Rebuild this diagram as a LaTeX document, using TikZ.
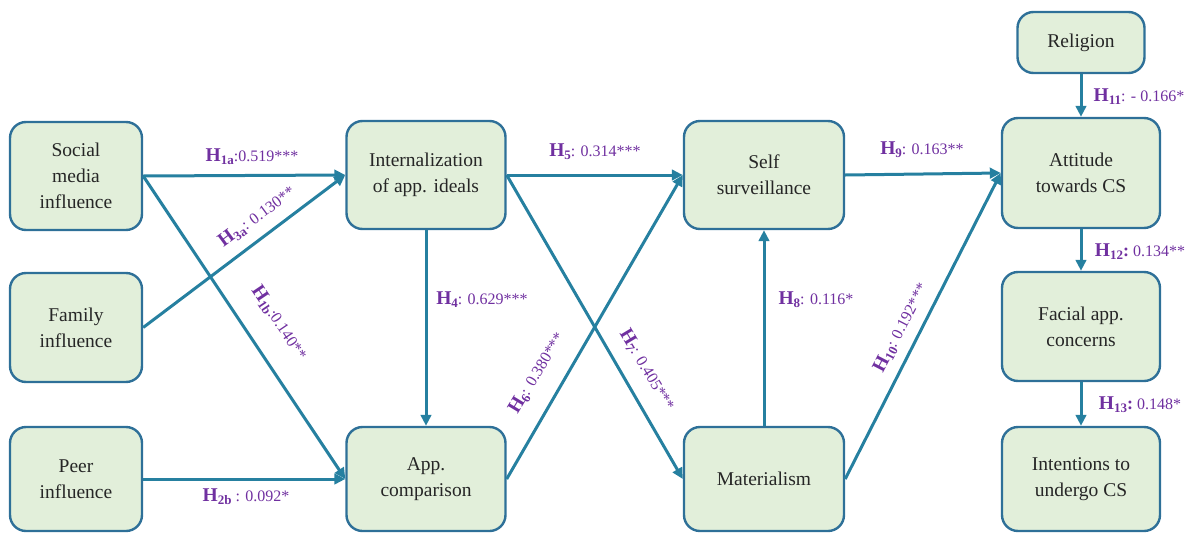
\documentclass[tikz,border=0pt]{standalone}
\usepackage{fontspec}
\setmainfont{Liberation Serif}
\usetikzlibrary{arrows.meta}

\definecolor{boxfill}{RGB}{226,239,218}
\definecolor{boxline}{RGB}{46,112,152}
\definecolor{pathline}{RGB}{38,128,160}
\definecolor{hypcol}{RGB}{112,48,160}

% hypothesis label: bold H, bold subscript, then the coefficient text
\newcommand{\hyp}[2]{{\fontsize{19.5}{19.5}\selectfont\bfseries H}\raisebox{-0.3em}{\fontsize{13}{13}\selectfont\bfseries #1}{\fontsize{16}{16}\selectfont #2}}
\newcommand{\bcolon}{{\fontsize{18}{18}\selectfont\bfseries :}}

\tikzset{
  box/.style={draw=boxline, line width=2.4pt, fill=boxfill, rounded corners=16pt,
    align=center, inner sep=0pt, font=\fontsize{19.5}{26}\selectfont, text=black!85},
  path arrow/.style={draw=pathline, line width=3pt,
    -{Triangle[length=11pt,width=10.5pt]}},
  hyplabel/.style={text=hypcol, inner sep=0pt, anchor=center}
}

\begin{document}
\begin{tikzpicture}[x=1pt,y=-1pt]
\useasboundingbox (0,0) rectangle (1192,536);

% constructs
\node[box, minimum width=132pt, minimum height=108pt] (soc)  at (76,176)    {Social\\media\\influence};
\node[box, minimum width=132pt, minimum height=109pt] (fam)  at (76,327.5)  {Family\\influence};
\node[box, minimum width=132pt, minimum height=104pt] (peer) at (76,479)    {Peer\\influence};
\node[box, minimum width=159pt, minimum height=108pt] (int)  at (426,175)   {Internalization\\of app. ideals};
\node[box, minimum width=159pt, minimum height=104pt] (comp) at (426,479)   {App.\\comparison};
\node[box, minimum width=160pt, minimum height=108pt] (self) at (764,175)   {Self\\surveillance};
\node[box, minimum width=160pt, minimum height=104pt] (mat)  at (764,479)   {Materialism};
\node[box, minimum width=127pt, minimum height=61pt]  (rel)  at (1081,42.5) {Religion};
\node[box, minimum width=158pt, minimum height=110pt] (att)  at (1081,173)  {Attitude\\towards CS};
\node[box, minimum width=158pt, minimum height=109pt] (fac)  at (1081,326.5){Facial app.\\concerns};
\node[box, minimum width=158pt, minimum height=104pt] (intn) at (1081,479)  {Intentions to\\undergo CS};

% paths
\draw[path arrow] (soc.east)  -- (int.west);
\draw[path arrow] (fam.east)  -- (int.west);
\draw[path arrow] (soc.east)  -- (comp.west);
\draw[path arrow] (peer.east) -- (comp.west);
\draw[path arrow] (int.south) -- (comp.north);
\draw[path arrow] (int.east)  -- (self.west);
\draw[path arrow] (int.east)  -- (mat.west);
\draw[path arrow] (comp.east) -- (self.west);
\draw[path arrow] (mat.north) -- (self.south);
\draw[path arrow] (self.east) -- (att.west);
\draw[path arrow] (mat.east)  -- (att.west);
\draw[path arrow] (rel.south) -- (att.north);
\draw[path arrow] (att.south) -- (fac.north);
\draw[path arrow] (fac.south) -- (intn.north);

% hypothesis labels
\node[hyplabel] (h1a) at (252,157) {\hyp{1a}{:0.519***}};
\node[hyplabel, rotate=36.5] (h3a) at (257,217) {\hyp{3a}{: 0.130**}};
\node[hyplabel, rotate=-56] (h1b) at (279,323) {\hyp{1b}{:0.140**}};
\node[hyplabel] (h2b) at (246,497) {\hyp{2b}{ : 0.092*}};
\node[hyplabel] (h4)  at (482,300) {\hyp{4}{: 0.629***}};
\node[hyplabel] (h5)  at (595,152) {\hyp{5}{: 0.314***}};
\node[hyplabel, rotate=59] (h6) at (537,373) {\hyp{6}{: 0.380***}};
\node[hyplabel, rotate=-59] (h7) at (647,370) {\hyp{7}{: 0.405***}};
\node[hyplabel] (h8)  at (816,300) {\hyp{8}{: 0.116*}};
\node[hyplabel] (h9)  at (922,150) {\hyp{9}{: 0.163**}};
\node[hyplabel, rotate=62.7] (h10) at (901,328) {\hyp{10}{: 0.192***}};
\node[hyplabel] (h11) at (1139,97)  {\hyp{11}{: - 0.166*}};
\node[hyplabel] (h12) at (1140,252) {\hyp{12}{\bcolon\ 0.134**}};
\node[hyplabel] (h13) at (1140,405) {\hyp{13}{\bcolon\ 0.148*}};
\end{tikzpicture}
\end{document}
